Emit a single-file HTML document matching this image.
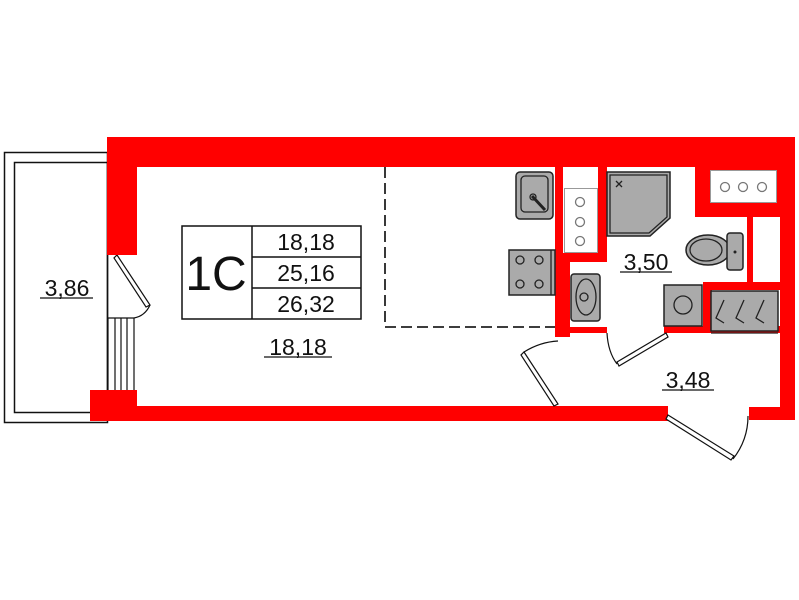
<!DOCTYPE html>
<html><head><style>
html,body{margin:0;padding:0;background:#fff;}
svg{display:block}
text{font-family:"Liberation Sans",sans-serif;fill:#111}
</style></head><body>
<svg width="799" height="600" viewBox="0 0 799 600" xmlns="http://www.w3.org/2000/svg">
<rect x="4.5" y="152.5" width="103" height="270" fill="none" stroke="#111" stroke-width="1.5"/>
<rect x="14.5" y="162.5" width="93" height="250" fill="none" stroke="#111" stroke-width="1.5"/>
<g stroke="#111" stroke-width="1.2">
<line x1="108" y1="318" x2="108" y2="392"/><line x1="115" y1="318" x2="115" y2="392"/>
<line x1="121" y1="318" x2="121" y2="392"/><line x1="127" y1="318" x2="127" y2="392"/>
<line x1="134" y1="318" x2="134" y2="392"/><line x1="108" y1="318" x2="134" y2="318"/>
</g>
<path d="M117 255 L150 305 L146 307 L114 258 Z" fill="#fff" stroke="#111" stroke-width="1.2"/>
<path d="M150 305 Q145 316 134 318" fill="none" stroke="#111" stroke-width="1.2"/>
<g stroke="#222" stroke-width="1.8" stroke-dasharray="11,5" fill="none">
<line x1="385" y1="167" x2="385" y2="327"/><line x1="385" y1="327" x2="555" y2="327"/>
</g>
<g fill="#f00">
<rect x="107" y="137" width="688" height="30"/>
<rect x="107" y="137" width="30" height="118"/>
<rect x="90" y="390" width="47" height="30"/>
<rect x="90" y="406" width="578" height="15"/>
<rect x="749" y="407" width="46" height="13"/>
<rect x="780" y="137" width="15" height="283"/>
<rect x="555" y="167" width="8" height="170"/>
<rect x="598" y="167" width="9" height="95"/>
<rect x="563" y="253" width="44" height="9"/>
<rect x="555" y="262" width="15" height="75"/>
<rect x="555" y="327" width="52" height="6"/>
<rect x="664" y="326" width="116" height="7"/>
<rect x="695" y="167" width="85" height="50"/>
<rect x="747" y="217" width="6" height="73"/>
<rect x="703" y="282" width="77" height="8"/>
<rect x="703" y="282" width="9" height="51"/>
</g>
<rect x="564.5" y="188.5" width="33" height="64" fill="#fff" stroke="#999"/>
<rect x="710.5" y="170.5" width="66" height="32" fill="#fff" stroke="#999"/>
<rect x="753" y="217" width="27" height="62" fill="#fff"/>
<g fill="#fff" stroke="#777" stroke-width="1.3">
<circle cx="580" cy="202" r="4.5"/><circle cx="580" cy="222" r="4.5"/><circle cx="580" cy="241" r="4.5"/>
<circle cx="725" cy="187" r="4.5"/><circle cx="743" cy="187" r="4.5"/><circle cx="762" cy="187" r="4.5"/>
</g>
<g fill="#aaa" stroke="#222" stroke-width="1.5">
<rect x="516" y="172" width="37" height="47" rx="4"/>
<rect x="509" y="250" width="46" height="45"/>
<path d="M607 172 L670 172 L670 218 L650 236 L607 236 Z"/>
<rect x="571" y="274" width="29" height="47" rx="3"/>
<rect x="664" y="285" width="38" height="41"/>
<rect x="711" y="291" width="67" height="40"/>
<ellipse cx="708" cy="250" rx="22" ry="15"/>
<rect x="727" y="233" width="16" height="37" rx="3"/>
</g>
<g fill="none" stroke="#222" stroke-width="1.3">
<path d="M610 175 L667 175 L667 217 L649 233 L610 233 Z"/>
<rect x="521" y="176" width="27" height="36" rx="4"/>
<path d="M532 196 L545 210" stroke-width="3"/><circle cx="533" cy="197" r="3"/>
<circle cx="520" cy="260" r="4"/><circle cx="539" cy="260" r="4"/><circle cx="520" cy="284" r="4"/><circle cx="539" cy="284" r="4"/>
<line x1="551" y1="250" x2="551" y2="295"/>
<ellipse cx="586" cy="297" rx="10" ry="18"/><circle cx="584" cy="297" r="4"/>
<circle cx="683" cy="305" r="9"/>
<ellipse cx="706" cy="250" rx="16" ry="11"/>
<path d="M724 300 L716 318 L724 323 M744 300 L736 318 L744 323 M764 300 L756 318 L764 323"/>
<line x1="711" y1="333" x2="778" y2="333"/>
<path d="M616 181 l6 6 M622 181 l-6 6"/>
</g>
<circle cx="735" cy="252" r="1.5" fill="#222"/>
<g fill="#fff" stroke="#111" stroke-width="1.2">
<path d="M524 352 L558 404 L554 406 L521 355 Z"/>
<path d="M617 362 L666 333 L668 337 L619 366 Z"/>
<path d="M668 415 L734 456 L731 460 L666 419 Z"/>
</g>
<g fill="none" stroke="#111" stroke-width="1.2">
<path d="M524 352 Q540 342 558 341"/>
<path d="M607 333 Q608 352 617 364"/>
<path d="M733 459 Q748 440 748 416"/>
</g>
<g fill="none" stroke="#111" stroke-width="1.5">
<rect x="182" y="226" width="179" height="93"/>
<line x1="252" y1="226" x2="252" y2="319"/>
<line x1="252" y1="257" x2="361" y2="257"/>
<line x1="252" y1="288" x2="361" y2="288"/>
</g>
<text x="216" y="290" font-size="48" text-anchor="middle">1C</text>
<g font-size="23" text-anchor="middle">
<text x="306" y="250">18,18</text>
<text x="306" y="281">25,16</text>
<text x="306" y="312">26,32</text>
<text x="298" y="355">18,18</text>
<text x="67" y="296">3,86</text>
<text x="646" y="270">3,50</text>
<text x="688" y="388">3,48</text>
</g>
<g stroke="#111" stroke-width="1.2">
<line x1="264" y1="357" x2="332" y2="357"/>
<line x1="40" y1="298" x2="93" y2="298"/>
<line x1="620" y1="272" x2="672" y2="272"/>
<line x1="662" y1="390" x2="714" y2="390"/>
</g>
</svg>
</body></html>
